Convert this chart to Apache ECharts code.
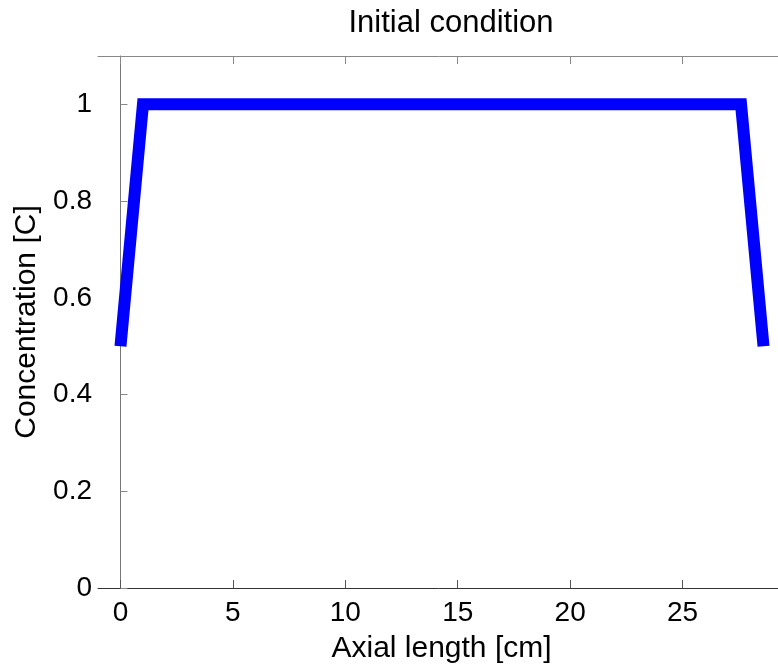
<!DOCTYPE html>
<html>
<head>
<meta charset="utf-8">
<script src="https://cdn.jsdelivr.net/npm/echarts@6/dist/echarts.min.js"></script>
<style>
  html, body { margin: 0; padding: 0; background: #fff; }
  #chart { width: 778px; height: 669px; }
</style>
</head>
<body>
<div id="chart"></div>
<script>
// initial concentration profile along the column
const axialLength = [0, 1, 27.6, 28.6];
const concentration = [0.5, 1, 1, 0.5];
const xTicks = [0, 5, 10, 15, 20, 25];
const yTicks = [0, 0.2, 0.4, 0.6, 0.8, 1];

const chart = echarts.init(document.getElementById('chart'));
const font = 'Liberation Sans, Arial, Helvetica, sans-serif';

const option = {
    animation: false,
    title: {
        text: 'Initial condition',
        left: 446,
        top: 3,
        textAlign: 'center',
        textStyle: { fontFamily: font, fontSize: 31, fontWeight: 'normal', color: '#000' }
    },
    grid: {
        left: 98,
        top: 56,
        width: 697,
        height: 532,
        outerBoundsMode: 'none',
        containLabel: false
    },
    xAxis: [
        {
            type: 'value',
            min: -1,
            max: 30,
            name: 'Axial length [cm]',
            nameLocation: 'middle',
            nameGap: 46,
            nameMoveOverlap: false,
            nameTextStyle: { fontFamily: font, fontSize: 30, color: '#000', padding: [0, 10, 0, 0] },
            axisLine: { lineStyle: { color: '#333', width: 1 } },
            axisTick: { inside: true, length: 8, lineStyle: { color: '#555' }, customValues: xTicks },
            axisLabel: { fontFamily: font, fontSize: 28, color: '#000', margin: 11, customValues: xTicks },
            splitLine: { show: false }
        },
        {
            type: 'value',
            position: 'top',
            min: -1,
            max: 30,
            axisLine: { lineStyle: { color: '#888', width: 1 } },
            axisTick: { inside: true, length: 8, lineStyle: { color: '#888' }, customValues: xTicks },
            axisLabel: { show: false },
            splitLine: { show: false }
        }
    ],
    yAxis: {
        type: 'value',
        min: 0,
        max: 1.1,
        name: 'Concentration [C]',
        nameLocation: 'middle',
        nameGap: 56,
        nameMoveOverlap: false,
        nameTextStyle: { fontFamily: font, fontSize: 30, color: '#000' },
        axisLine: { show: true, lineStyle: { color: '#777', width: 1 } },
        axisTick: { show: true, inside: true, length: 7, lineStyle: { color: '#888' }, customValues: yTicks },
        axisLabel: { fontFamily: font, fontSize: 28, color: '#000', margin: 6, customValues: yTicks },
        splitLine: { show: false }
    },
    series: [
        {
            type: 'line',
            data: axialLength.map((x, i) => [x, concentration[i]]),
            showSymbol: false,
            symbol: 'none',
            lineStyle: { color: '#0000ff', width: 12, cap: 'butt', join: 'miter' }
        }
    ]
};

chart.setOption(option);
</script>
</body>
</html>
